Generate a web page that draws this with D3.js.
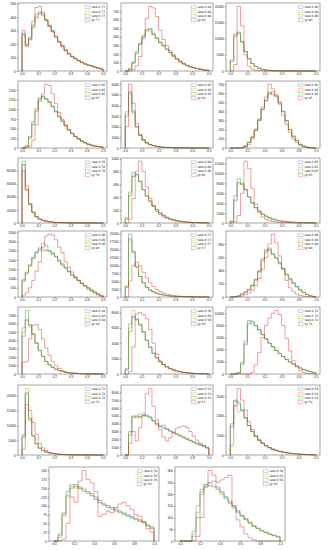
<!DOCTYPE html>
<html lang="en">
<head>
<meta charset="UTF-8">
<script src="https://cdn.jsdelivr.net/npm/d3@7"></script>
<style>
  body { margin: 0; background: #fff; }
  svg { display: block; font-family: "DejaVu Sans", sans-serif; }
  .tick text { font-size: 3.3px; fill: #222; }
  .tick line { stroke: #222; stroke-width: 0.4; }
  .domain { display: none; }
</style>
</head>
<body>
<div id="chart"></div>
<script>
// series order in every panel: three ratio runs then the ground truth
const seriesColors = ['#1f77b4', '#ff7f0e', '#2ca02c', '#d62728'];

// x extent of each panel (all histograms use 25 bins)
const xMax = [0.5,0.5,0.5, 0.5,0.5,1.0, 0.5,0.5,0.5, 0.5,0.5,1.0, 0.5,0.5,0.5, 0.5,1.0,0.5, 1.0,1.0];
const xStep = [0.1,0.1,0.1, 0.1,0.1,0.2, 0.1,0.1,0.1, 0.1,0.1,0.2, 0.1,0.1,0.1, 0.1,0.2,0.1, 0.2,0.2];
const yStep = [100,100,5000, 250,1000,100, 20000,200,2000, 500,2500,200, 1000,2000,2000, 5000,1000,1000, 25,50];

const legendLabels = [
  ['rate 0.77','rate 0.77','rate 0.77','gt 77'],
  ['rate 0.88','rate 0.88','rate 0.88','gt 88'],
  ['rate 0.90','rate 0.90','rate 0.90','gt 90'],
  ['rate 0.85','rate 0.85','rate 0.85','gt 85'],
  ['rate 0.93','rate 0.93','rate 0.93','gt 93'],
  ['rate 0.95','rate 0.95','rate 0.95','gt 95'],
  ['rate 0.70','rate 0.70','rate 0.70','gt 70'],
  ['rate 0.60','rate 0.60','rate 0.60','gt 60'],
  ['rate 0.65','rate 0.65','rate 0.65','gt 65'],
  ['rate 0.86','rate 0.86','rate 0.86','gt 86'],
  ['rate 0.57','rate 0.57','rate 0.57','gt 57'],
  ['rate 0.98','rate 0.98','rate 0.98','gt 98'],
  ['rate 0.48','rate 0.48','rate 0.48','gt 48'],
  ['rate 0.50','rate 0.50','rate 0.50','gt 50'],
  ['rate 0.72','rate 0.72','rate 0.72','gt 72'],
  ['rate 0.72','rate 0.72','rate 0.72','gt 72'],
  ['rate 0.53','rate 0.53','rate 0.53','gt 53'],
  ['rate 0.54','rate 0.54','rate 0.54','gt 54'],
  ['rate 0.70','rate 0.70','rate 0.70','gt 70'],
  ['rate 0.58','rate 0.58','rate 0.58','gt 58']
];

const p01 = [
  [280,190,230,320,400,430,420,380,340,300,260,220,190,160,130,110,95,80,65,55,45,40,30,25,18],
  [260,200,240,330,390,420,440,370,330,290,250,215,185,150,125,105,90,75,62,50,45,35,30,22,15],
  [270,195,235,340,420,440,410,375,335,295,255,220,185,155,130,108,92,78,66,52,44,38,28,24,16],
  [300,180,250,370,470,480,430,380,330,290,250,210,180,150,125,105,90,75,62,52,42,35,28,20,14]
];
const p02 = [
  [0,20,90,200,310,400,470,490,440,390,340,300,260,220,180,140,110,85,65,50,40,30,22,15,10],
  [0,30,110,230,330,420,480,470,420,380,330,290,250,210,170,135,105,80,62,48,38,28,20,14,10],
  [0,25,100,220,320,410,490,500,430,385,335,295,255,215,175,138,108,82,64,50,40,30,21,15,9],
  [0,0,15,60,170,380,620,760,740,640,480,370,300,240,190,150,120,95,70,52,38,28,18,12,8]
];
const p03 = [
  [3000,11000,12000,9000,6000,3800,2300,1400,850,500,300,180,110,70,40,25,15,10,6,4,2,1,1,0,0],
  [2800,10500,11800,9200,6100,3850,2320,1420,860,505,302,182,111,70,41,25,15,10,6,4,2,1,1,0,0],
  [3500,11500,11500,8900,5950,3780,2290,1390,845,498,299,179,109,69,40,25,15,10,6,4,2,1,1,0,0],
  [0,2000,20000,14000,5000,1500,600,250,120,60,30,15,8,4,2,1,0,0,0,0,0,0,0,0,0]
];
const p04 = [
  [0,40,250,600,950,1250,1330,1280,1200,1080,950,820,700,580,470,380,300,240,180,140,100,75,55,40,30],
  [0,50,280,640,980,1270,1300,1250,1180,1060,930,800,680,570,460,370,295,235,178,135,98,72,54,38,28],
  [0,60,300,680,1020,1300,1350,1270,1190,1070,940,810,690,575,465,375,298,238,180,138,100,74,55,39,29],
  [0,0,40,200,600,1200,1400,1650,1620,1400,1150,920,740,600,480,380,300,235,175,130,95,68,48,34,24]
];
const p05 = [
  [3000,5200,3500,2000,1200,750,480,320,220,150,100,70,50,35,25,18,12,8,6,4,3,2,1,1,0],
  [3200,5000,3400,2000,1200,750,480,320,220,150,100,70,50,35,25,18,12,8,6,4,3,2,1,1,0],
  [3400,5300,3300,1950,1180,740,475,318,218,148,99,69,49,34,24,17,12,8,6,4,3,2,1,1,0],
  [2000,6000,4200,2300,1300,800,500,330,225,150,100,70,50,35,25,18,12,8,6,4,3,2,1,1,0]
];
const p06 = [
  [0,0,0,5,20,60,120,200,300,420,520,600,620,580,500,400,300,200,130,80,40,20,10,5,0],
  [0,0,0,6,25,65,125,210,310,430,510,590,600,590,490,395,295,205,125,78,42,22,9,4,0],
  [0,0,0,4,22,62,118,195,305,425,530,610,580,570,505,405,298,198,128,82,38,19,10,5,0],
  [0,0,0,0,10,40,100,190,320,450,560,700,650,560,480,360,260,170,100,60,30,15,5,0,0]
];
const p07 = [
  [90000,52000,28000,16000,9500,6000,4000,2700,1900,1300,900,650,450,320,230,160,110,80,60,40,30,20,15,10,8],
  [88000,50000,29000,16500,9800,6100,4100,2750,1900,1300,900,640,450,320,225,160,112,80,58,40,30,21,15,10,7],
  [95000,51000,28500,16200,9600,6000,4000,2700,1880,1290,890,640,448,318,228,158,110,79,58,40,29,20,14,10,7],
  [80000,57000,30000,17000,10000,6200,4100,2800,1950,1330,920,660,460,330,235,165,115,82,60,42,30,21,15,10,7]
];
const p08 = [
  [60,420,720,760,650,520,420,340,270,210,160,120,90,68,50,38,28,20,15,11,8,6,4,3,2],
  [70,450,730,740,640,515,415,335,265,205,158,118,88,66,49,37,27,20,14,10,8,6,4,3,2],
  [80,480,780,750,645,518,418,338,268,208,160,119,89,67,50,37,28,20,14,11,8,6,4,3,2],
  [0,60,380,800,960,800,560,380,260,180,130,95,70,52,38,28,20,15,11,8,6,4,3,2,1]
];
const p09 = [
  [300,4500,8200,8000,6800,5300,4100,3100,2400,1800,1400,1050,800,600,450,340,250,190,140,100,75,55,40,30,20],
  [350,4800,7900,7700,6700,5250,4050,3080,2380,1790,1390,1040,790,595,445,335,248,188,138,100,74,55,40,29,20],
  [400,5500,9000,7800,6750,5280,4080,3090,2390,1795,1395,1045,795,598,448,338,249,189,139,101,75,55,40,30,20],
  [0,200,1500,6000,12500,11000,7000,3800,2100,1200,750,480,320,220,150,100,70,50,35,25,18,12,9,6,4]
];
const p10 = [
  [850,1300,1700,2100,2400,2600,2900,2800,2500,2300,2200,2000,1800,1600,1400,1200,1050,900,760,630,500,380,270,170,80],
  [900,1250,1650,2050,2350,2700,2600,2550,2450,2350,2200,1950,1750,1580,1380,1190,1040,890,750,620,495,375,265,165,75],
  [950,1350,1750,2150,2450,2550,2500,2500,2500,2400,2150,1900,1700,1550,1360,1180,1030,880,740,610,490,370,260,160,70],
  [100,250,500,900,1400,1900,2700,3300,3400,3350,3100,2700,2400,1900,1600,1350,1100,900,720,560,420,300,200,110,40]
];
const p11 = [
  [3000,19800,14000,9500,6500,4500,3100,2200,1600,1150,850,620,450,330,240,175,130,95,70,50,36,26,18,12,8],
  [3200,18500,14500,9600,6500,4500,3100,2200,1600,1150,850,620,450,330,240,175,130,95,70,50,36,26,18,12,8],
  [3500,18000,14200,9400,6400,4450,3080,2190,1590,1145,848,618,448,328,238,174,129,94,69,49,35,25,18,12,8],
  [0,5000,10000,11000,9800,7800,6000,4500,3300,2400,1750,1250,900,650,470,340,245,175,125,90,64,45,32,22,15]
];
const p12 = [
  [0,5,15,40,70,110,170,260,380,560,700,720,650,600,520,430,350,280,220,160,110,70,40,20,8],
  [0,4,18,45,75,105,175,250,400,540,720,700,660,580,510,440,340,270,210,150,100,65,38,18,7],
  [0,6,20,50,80,120,180,270,390,580,680,740,640,590,500,420,330,260,200,155,105,68,36,19,6],
  [0,0,5,15,35,60,100,170,280,420,600,800,950,820,620,420,250,140,80,45,25,12,6,2,0]
];
const p13 = [
  [4500,6400,5800,4800,3700,2800,2100,1500,1100,800,580,420,300,210,150,110,80,55,40,28,20,14,10,7,5],
  [5000,6500,5600,4700,3650,2780,2080,1490,1090,795,575,418,298,208,148,108,78,54,39,27,19,14,10,7,5],
  [5500,7600,5900,4750,3680,2790,2090,1495,1095,798,578,419,299,209,149,109,79,55,40,28,20,14,10,7,5],
  [1400,1500,4200,5800,5900,5300,4200,3100,2200,1500,1000,650,420,270,170,110,70,45,30,20,13,9,6,4,2]
];
const p14 = [
  [500,5500,7500,7200,6500,5500,4400,3500,2700,2100,1600,1250,950,720,540,400,300,220,160,115,80,55,38,25,15],
  [600,6000,8300,7000,6300,5400,4350,3450,2680,2080,1590,1240,945,715,535,398,298,218,158,113,79,54,37,25,15],
  [700,6500,7400,7100,6400,5450,4380,3480,2690,2090,1595,1245,948,718,538,399,299,219,159,114,80,55,38,25,15],
  [0,300,3500,7800,8000,7700,7200,5800,4000,2600,1700,1200,900,680,500,370,270,195,140,100,70,48,32,20,12]
];
const p15 = [
  [0,0,150,1500,4800,8800,8600,8000,7300,6500,5800,5100,4500,3900,3400,2900,2400,2000,1650,1300,1000,750,550,380,250],
  [0,0,200,1700,5000,8400,8300,7900,7200,6450,5750,5050,4450,3850,3350,2850,2380,1980,1630,1290,990,740,545,375,245],
  [0,0,250,1900,5400,8200,8700,7950,7250,6480,5780,5080,4480,3880,3380,2880,2390,1990,1640,1295,995,745,548,378,248],
  [0,0,0,0,0,0,300,1500,3500,6000,8000,9200,10000,10500,9800,8000,5800,3800,2200,1200,600,250,100,30,0]
];
const p16 = [
  [6000,21000,12000,6500,3800,2300,1500,1000,700,500,350,250,180,130,100,70,50,40,30,20,15,10,8,5,3],
  [7000,22500,11500,6300,3700,2250,1480,990,690,495,348,248,178,128,98,69,49,39,29,20,15,10,8,5,3],
  [6500,20500,12500,6600,3850,2320,1510,1005,702,502,351,251,181,131,101,71,51,41,31,21,15,10,8,5,3],
  [2000,17000,15000,11000,7000,4000,2400,1500,950,620,420,290,200,140,100,70,50,35,25,18,12,8,6,4,2]
];
const p17 = [
  [0,2500,4800,4900,4800,5000,5100,4900,4400,4000,3700,3800,3400,3100,2900,2700,2500,2300,2100,1900,1700,1500,1350,1200,1000],
  [0,2800,4900,4700,5200,5300,5000,4800,4300,3900,3600,3500,3300,3000,2850,2650,2450,2250,2050,1850,1650,1450,1300,1150,950],
  [0,3000,5000,5000,4900,5100,4900,4700,4350,3950,3650,3450,3250,3050,2800,2600,2400,2200,2000,1800,1600,1400,1250,1100,900],
  [0,1500,3000,1800,3500,5000,7800,8500,6200,4500,3200,2300,1800,2200,2900,3400,3600,3700,3500,3000,2400,1900,1500,1200,900]
];
const p18 = [
  [1500,2800,2700,2300,1900,1500,1200,950,750,600,480,380,300,240,190,150,120,95,75,60,45,35,25,15,10],
  [1400,2500,2200,2250,1880,1490,1190,945,745,598,478,378,298,238,188,148,119,94,74,59,44,34,24,15,10],
  [1600,2750,2600,2280,1890,1495,1195,948,748,599,479,379,299,239,189,149,119,95,75,60,45,35,25,15,10],
  [500,2500,3400,2800,2300,1700,1300,1000,780,600,460,360,280,220,170,130,100,80,60,45,35,25,18,12,8]
];
const p19 = [
  [0,15,75,130,150,160,150,145,140,135,125,115,105,100,95,90,85,80,75,70,65,60,55,45,40],
  [0,10,70,125,155,150,155,150,140,130,120,110,105,100,95,88,83,78,72,68,62,58,52,45,38],
  [0,20,80,140,160,155,150,140,135,128,118,108,100,95,90,85,80,75,70,65,60,55,50,42,35],
  [0,0,5,50,125,110,170,200,175,165,140,70,75,85,80,95,105,110,100,90,75,70,55,35,25]
];
const p20 = [
  [0,0,0,20,100,200,240,250,255,230,210,190,170,150,130,110,95,80,65,55,45,38,30,25,20],
  [0,0,0,30,120,210,230,245,235,225,205,185,165,145,125,108,92,78,64,54,44,36,30,24,18],
  [0,0,0,40,150,220,240,235,230,220,200,180,160,140,122,105,90,75,62,52,42,35,28,22,16],
  [0,0,0,0,20,100,230,300,280,250,260,270,280,150,90,60,30,15,5,0,0,0,0,0,0]
];

const panels = [p01,p02,p03,p04,p05,p06,p07,p08,p09,p10,p11,p12,p13,p14,p15,p16,p17,p18,p19,p20];

// panel frames (plot area) in page pixels
const rowsY = [[3,71],[81,148],[158,223],[231,297],[307,374],[385,455],[467,541]];
const colsX = [[18,107],[121,213],[226,320]];
const lastColsX = [[49,159],[175,285]];

const svg = d3.select('#chart').append('svg')
  .attr('width', 328).attr('height', 550);

panels.forEach((series, i) => {
  const row = i < 18 ? Math.floor(i / 3) : 6;
  const cx = i < 18 ? colsX[i % 3] : lastColsX[i - 18];
  const [top, bottom] = rowsY[row];
  const [left, right] = cx;
  const xm = xMax[i];
  const nb = series[0].length;
  const edges = d3.range(nb + 1).map(k => k * xm / nb);
  const ymax = d3.max(series, s => d3.max(s)) * 1.05;

  const x = d3.scaleLinear().domain([-0.05 * xm, 1.05 * xm]).range([left, right]);
  const y = d3.scaleLinear().domain([0, ymax]).range([bottom, top]);

  const g = svg.append('g');

  //axes
  const xt = d3.range(0, xm + 1e-9, xStep[i]);
  const yt = d3.range(0, ymax, yStep[i]);
  g.append('g').attr('transform', `translate(0,${bottom})`)
    .call(d3.axisBottom(x).tickValues(xt).tickFormat(d3.format('.1f')).tickSize(1.3).tickPadding(0.8));
  g.append('g').attr('transform', `translate(${left},0)`)
    .call(d3.axisLeft(y).tickValues(yt).tickFormat(d3.format('d')).tickSize(1.3).tickPadding(0.8));

  //step histograms
  const line = d3.line().x(d => x(d[0])).y(d => y(d[1]));
  series.forEach((vals, s) => {
    const pts = [[edges[0], 0]];
    vals.forEach((v, k) => { pts.push([edges[k], v]); pts.push([edges[k + 1], v]); });
    pts.push([edges[nb], 0]);
    g.append('path')
      .attr('d', line(pts))
      .attr('fill', 'none')
      .attr('stroke', seriesColors[s])
      .attr('stroke-opacity', 0.55)
      .attr('stroke-width', 0.8);
  });

  //frame
  g.append('rect')
    .attr('x', left).attr('y', top)
    .attr('width', right - left).attr('height', bottom - top)
    .attr('fill', 'none').attr('stroke', '#222').attr('stroke-width', 0.4);

  //legend
  const lw = 22, lh = 19;
  const lx = right - lw - 1, ly = top + 1;
  const lg = g.append('g');
  lg.append('rect')
    .attr('x', lx).attr('y', ly).attr('width', lw).attr('height', lh).attr('rx', 0.8)
    .attr('fill', 'rgba(255,255,255,0.8)').attr('stroke', '#ddd').attr('stroke-width', 0.3);
  legendLabels[i].forEach((lab, s) => {
    const yy = ly + 3.2 + s * 4.3;
    lg.append('rect')
      .attr('x', lx + 1.5).attr('y', yy - 1.3).attr('width', 4.5).attr('height', 2.6)
      .attr('fill', 'none').attr('stroke', seriesColors[s]).attr('stroke-opacity', 0.55).attr('stroke-width', 0.5);
    lg.append('text')
      .attr('x', lx + 7.5).attr('y', yy + 1)
      .attr('font-size', 3).attr('fill', '#222')
      .text(lab);
  });
});
</script>
</body>
</html>
